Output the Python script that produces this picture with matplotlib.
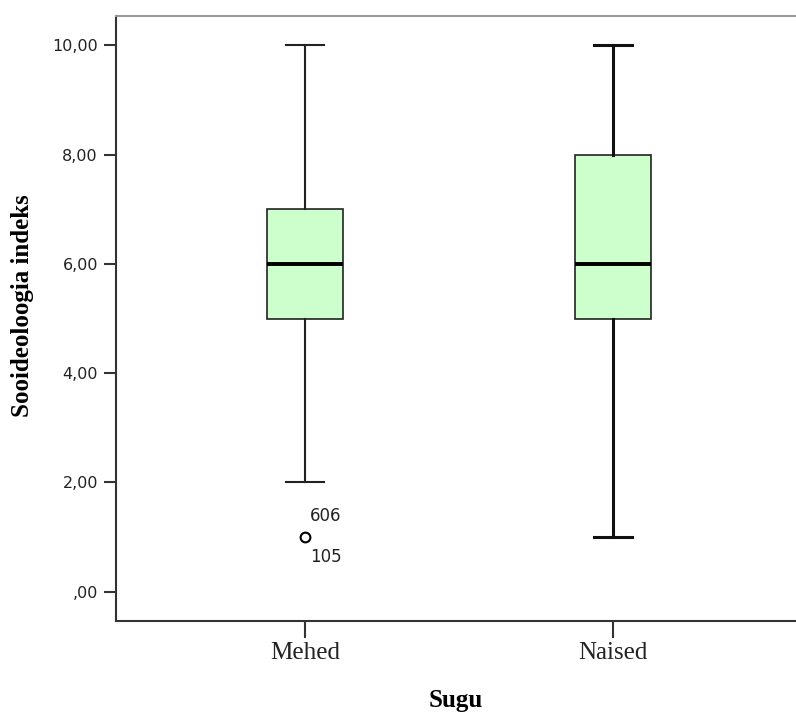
import matplotlib
matplotlib.use("Agg")
import matplotlib.pyplot as plt

categories = ["Mehed", "Naised"]
whislo = [2.0, 1.0]
q1 = [5.0, 5.0]
med = [6.0, 6.0]
q3 = [7.0, 8.0]
whishi = [10.0, 10.0]
fliers = [[1.0], []]
flier_labels = [["606", "105"], []]
yticks = [0, 2, 4, 6, 8, 10]
ytick_labels = [",00", "2,00", "4,00", "6,00", "8,00", "10,00"]

fig = plt.figure(figsize=(7.96, 7.13), dpi=100)
ax = fig.add_axes([116/796, 92/713, 1 - 116/796, (621-16)/713])

stats = []
for i, c in enumerate(categories):
    stats.append(dict(label=c, whislo=whislo[i], q1=q1[i], med=med[i],
                      q3=q3[i], whishi=whishi[i], fliers=fliers[i]))

art = ax.bxp(stats, positions=[1, 2], widths=0.247, patch_artist=True,
             boxprops=dict(facecolor="#CCFFCC", edgecolor="#222222", linewidth=1.2),
             medianprops=dict(color="black", linewidth=2.8),
             whiskerprops=dict(color="#222222", linewidth=1.5),
             capprops=dict(color="#222222", linewidth=1.5),
             capwidths=0.125,
             flierprops=dict(marker="o", markerfacecolor="white", markeredgecolor="black",
                             markersize=7, markeredgewidth=1.5))
# second group's whiskers drawn slightly heavier, as in the reference
for ln in art["whiskers"][2:] + art["caps"][2:]:
    ln.set_linewidth(2.2)
    ln.set_color("#111111")

for i, labs in enumerate(flier_labels):
    if labs:
        v = fliers[i][0]
        ax.annotate(labs[0], (i + 1, v), xytext=(3.5, 9), textcoords="offset points",
                    fontsize=12, ha="left", va="bottom", color="#222222")
        ax.annotate(labs[1], (i + 1, v), xytext=(3.5, -8), textcoords="offset points",
                    fontsize=12, ha="left", va="top", color="#222222")

ax.set_xlim(0.386, 2.594)
ax.set_ylim(-0.537, 10.54)
ax.set_yticks(yticks)
ax.set_yticklabels(ytick_labels, fontsize=11.5, color="#222222")
ax.set_xticks([1, 2])
ax.set_xticklabels(categories, fontsize=18, family="Liberation Serif", color="#222222")
ax.tick_params(axis="y", length=9, width=1.5, color="#333333", pad=4)
ax.tick_params(axis="x", length=12, width=1.5, color="#333333", pad=3)

ax.spines["right"].set_visible(False)
ax.spines["top"].set_color("#999999")
ax.spines["top"].set_linewidth(1.5)
ax.spines["left"].set_color("#333333")
ax.spines["left"].set_linewidth(1.5)
ax.spines["bottom"].set_color("#333333")
ax.spines["bottom"].set_linewidth(1.5)

ax.set_ylabel("Sooideoloogia indeks", fontsize=18, fontweight="bold",
              family="Liberation Serif")
ax.yaxis.set_label_coords(-0.121, 0.522)
ax.set_xlabel("Sugu", fontsize=18, fontweight="bold", family="Liberation Serif")
ax.xaxis.set_label_coords(0.5, -0.112)

fig.savefig("out.png", dpi=100)
